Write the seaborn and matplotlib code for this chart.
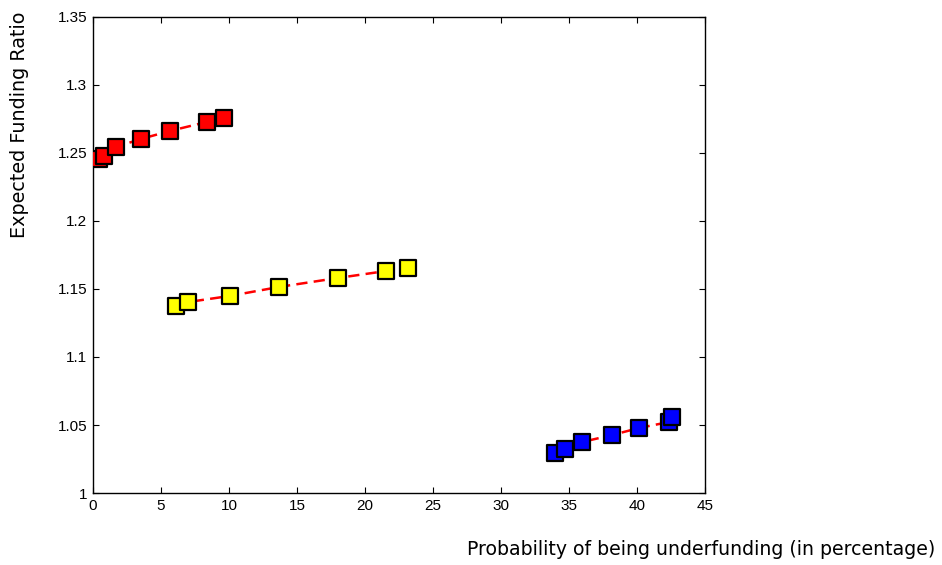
import numpy as np
import pandas as pd
import matplotlib
matplotlib.use("Agg")
import matplotlib.pyplot as plt
import seaborn as sns

# values
red_x = [0.44, 0.81, 1.69, 3.53, 5.66, 8.38, 9.63]
red_y = [1.2456, 1.2478, 1.2544, 1.2603, 1.2662, 1.2728, 1.2757]

yellow_x = [6.10, 6.99, 10.07, 13.68, 18.01, 21.54, 23.16]
yellow_y = [1.1375, 1.1404, 1.1449, 1.1515, 1.1581, 1.1632, 1.1654]

blue_x = [33.97, 34.71, 35.96, 38.16, 40.15, 42.35, 42.57]
blue_y = [1.0294, 1.0324, 1.0375, 1.0426, 1.0478, 1.0522, 1.0559]

x_ticks = [0, 5, 10, 15, 20, 25, 30, 35, 40, 45]
y_ticks = [1.0, 1.05, 1.1, 1.15, 1.2, 1.25, 1.3, 1.35]
y_ticklabels = ["1", "1.05", "1.1", "1.15", "1.2", "1.25", "1.3", "1.35"]

groups = [
    (red_x, red_y, "#ff0000"),
    (yellow_x, yellow_y, "#ffff00"),
    (blue_x, blue_y, "#0000ff"),
]

sns.set_style("ticks")
plt.rcParams["font.family"] = ["Liberation Sans", "DejaVu Sans"]
plt.rcParams["text.color"] = "black"

fig = plt.figure(figsize=(9.42, 5.65), dpi=100)
ax = fig.add_axes([0.0987, 0.1274, 0.6497, 0.8426])

for xs, ys, fill in groups:
    df = pd.DataFrame({"x": xs, "y": ys})
    sns.lineplot(data=df, x="x", y="y", sort=False, color="#ff0000",
                 linewidth=1.8, ax=ax, zorder=2)
    ax.lines[-1].set_dashes([4.5, 2.5])
    sns.scatterplot(data=df, x="x", y="y", marker="s", s=135, color=fill,
                    edgecolor="black", linewidth=1.6, ax=ax, zorder=3)

ax.set_xlim(0, 45)
ax.set_ylim(1.0, 1.35)
ax.set_xticks(x_ticks)
ax.set_yticks(y_ticks)
ax.set_yticklabels(y_ticklabels)
ax.set_xlabel("")
ax.set_ylabel("")
ax.tick_params(direction="in", length=4, width=0.8, top=True, right=True,
               labelsize=11, colors="black", pad=4)
for s in ax.spines.values():
    s.set_visible(True)
    s.set_linewidth(1.0)
    s.set_color("black")

fig.text(0.021, 0.779, "Expected Funding Ratio", rotation=90, color="black",
         ha="center", va="center", fontsize=13.8, family="DejaVu Sans")
fig.text(0.993, 0.028, "Probability of being underfunding (in percentage)",
         color="black", ha="right", va="center", fontsize=13.6,
         family="DejaVu Sans")

fig.savefig("out.png", dpi=100)
